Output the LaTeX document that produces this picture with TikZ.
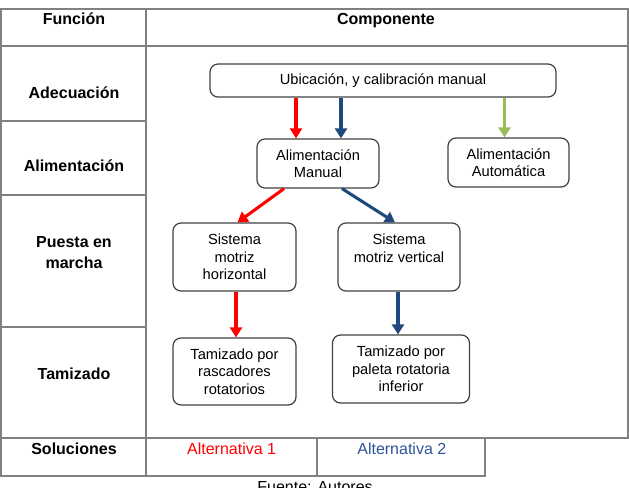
\documentclass[tikz,border=0pt]{standalone}
\usepackage{fontspec}
\setmainfont{Liberation Sans}
\usetikzlibrary{arrows.meta,calc}
\def\pxu{0.75pt}
\definecolor{tgray}{RGB}{128,128,128}
\definecolor{bdark}{RGB}{64,64,64}
\definecolor{ared}{RGB}{255,0,0}
\definecolor{ablue}{RGB}{31,73,125}
\definecolor{tblue}{RGB}{47,84,150}
\definecolor{agreen}{RGB}{155,187,89}
\tikzset{
  tline/.style={draw=tgray, line width=1.1pt},
  lbl/.style={font=\fontsize{12}{16}\selectfont\bfseries, anchor=base, align=center, inner sep=0pt},
  sol/.style={font=\fontsize{12}{16}\selectfont, anchor=base, inner sep=0pt},
  cbox/.style={draw=bdark, line width=0.9pt, rounded corners=6pt, align=center, inner sep=0pt,
    font=\fontsize{11}{13}\selectfont},
  arr/.style={line width=2.3pt, -{Triangle[width=9pt,length=7.5pt]}},
}
\begin{document}
\begin{tikzpicture}[x=0.75pt, y=-0.75pt]
\useasboundingbox (0,0) rectangle (629,487);
% table
\draw[tline] (1,9) rectangle (628,438);
\draw[tline] (1,46) -- (628,46);
\draw[tline] (146,9) -- (146,476);
\draw[tline] (1,121) -- (146,121);
\draw[tline] (1,195) -- (146,195);
\draw[tline] (1,327) -- (146,327);
\draw[tline] (1,438) -- (1,476) -- (485,476) -- (485,438);
\draw[tline] (317,438) -- (317,476);
% header and row labels
\node[lbl] (hfun) at (74,24.7) {Función};
\node[lbl] (hcomp) at (386,24.7) {Componente};
\node[lbl] (ladec) at (74,98.7) {Adecuación};
\node[lbl] (lalim) at (74,171.7) {Alimentación};
\node[lbl] (lpue) at (74,268.7) {Puesta en\\marcha};
\node[lbl] (ltam) at (74,379.7) {Tamizado};
\node[lbl] (lsol) at (74,454.7) {Soluciones};
\node[sol, text=ared] (alt1) at (231.6,454.7) {Alternativa 1};
\node[sol, text=tblue] (alt2) at (401.8,454.7) {Alternativa 2};
\node[sol] (fuente) at (315,492) {Fuente: Autores};
% boxes
\node[cbox, minimum width=346*\pxu, minimum height=33*\pxu] (ubic) at (383,80.5) {Ubicación, y calibración manual};
\node[cbox, minimum width=122*\pxu, minimum height=49*\pxu] (aman) at (318,163.5) {Alimentación\\Manual};
\node[cbox, minimum width=121*\pxu, minimum height=49*\pxu] (aaut) at (508.5,162.5) {Alimentación\\Automática};
\node[cbox, minimum width=123*\pxu, minimum height=68*\pxu] (smh) at (234.5,257) {Sistema\\motriz\\horizontal};
\node[cbox, minimum width=122*\pxu, minimum height=68*\pxu] (smv) at (399,257) {Sistema\\motriz vertical\\\mbox{}};
\node[cbox, minimum width=123*\pxu, minimum height=67*\pxu] (trr) at (234.5,371.5) {Tamizado por\\rascadores\\rotatorios};
\node[cbox, minimum width=137*\pxu, minimum height=68*\pxu] (tpr) at (401,369) {Tamizado por\\paleta rotatoria\\inferior};
% arrow anchor points
\coordinate (pr1) at ($(aman.north)+(-22,0)$);
\coordinate (pb1) at ($(aman.north)+(23,0)$);
\coordinate (pg1) at ($(aaut.north)+(-4,0)$);
\coordinate (pr2) at ($(smh.south)+(1.5,0)$);
\coordinate (pb2) at ($(smv.south)+(-1,0)$);
% arrows
\draw[arr, ared] (pr1 |- ubic.south) -- (pr1);
\draw[arr, ablue] (pb1 |- ubic.south) -- (pb1);
\draw[arr, agreen] (pg1 |- ubic.south) -- (pg1);
\draw[arr, ared] ($(aman.south)+(-34,0)$) -- ($(smh.north)+(3,0)$);
\draw[arr, ablue] ($(aman.south)+(24,0)$) -- ($(smv.north)+(-4,0)$);
\draw[arr, ared] (pr2) -- (pr2 |- trr.north);
\draw[arr, ablue] (pb2) -- (pb2 |- tpr.north);
\end{tikzpicture}
\end{document}
